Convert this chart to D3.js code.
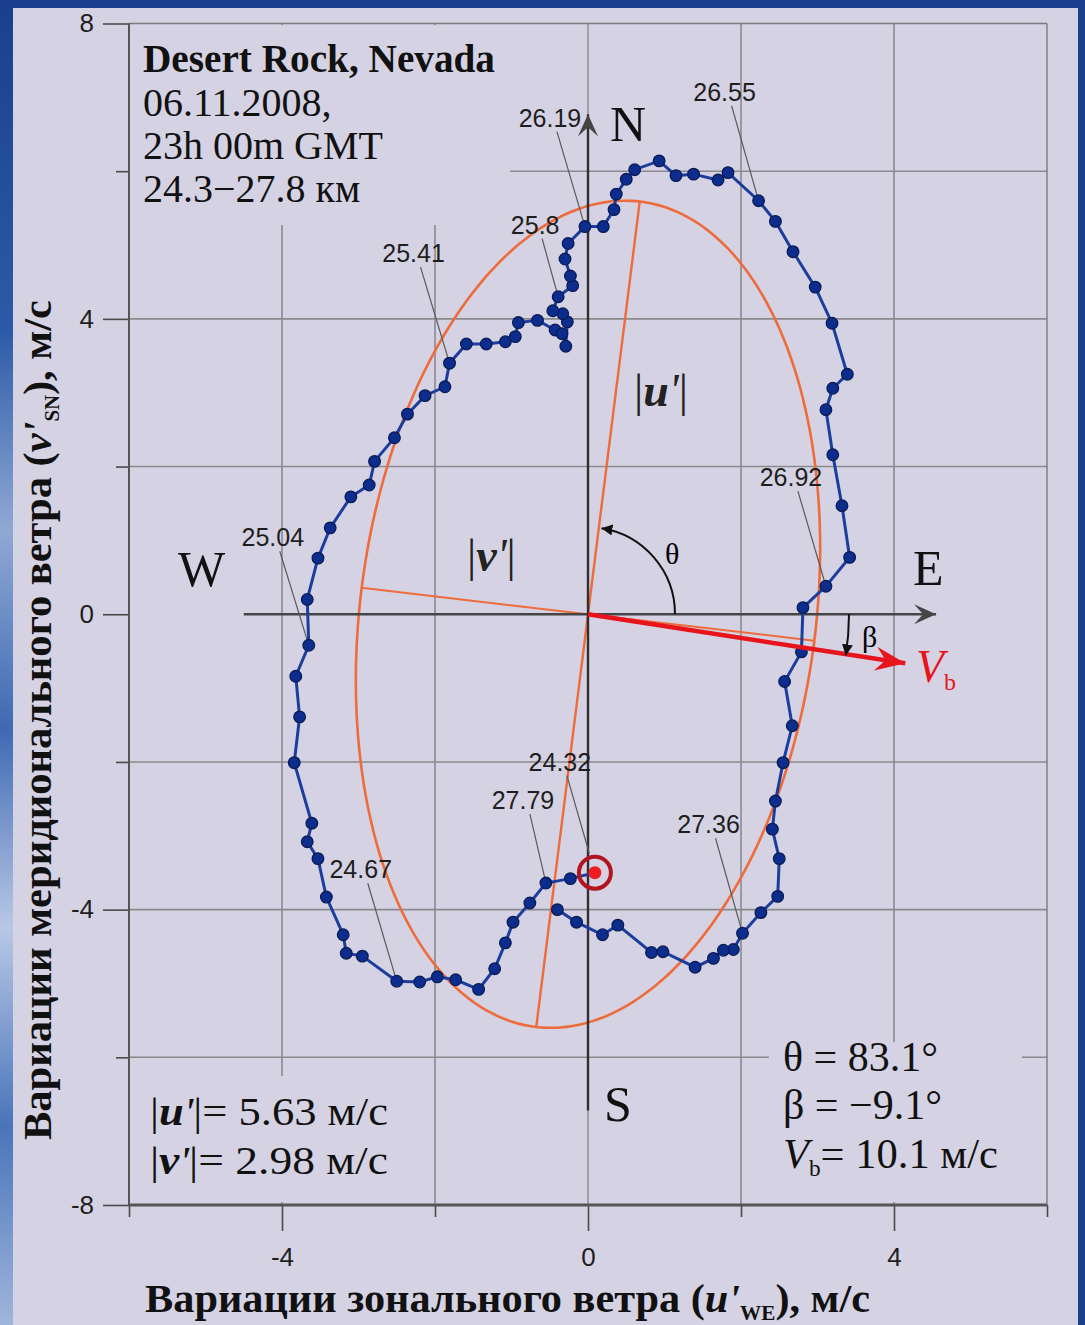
<!DOCTYPE html>
<html>
<head>
<meta charset="utf-8">
<script src="https://cdn.jsdelivr.net/npm/d3@7"></script>
<style>
  html, body { margin: 0; padding: 0; background: #1b3f8c; }
  svg { display: block; }
</style>
</head>
<body>
<svg id="chart" width="1085" height="1325"></svg>
<script>
// Hodograph of wind variations, in altitude order (u' — zonal, v' — meridional), m/s
const uWE = [0.09,-0.23,-0.55,-0.76,-0.98,-1.08,-1.22,-1.43,-1.73,-1.97,
  -2.20,-2.50,-2.95,-3.16,-3.20,-3.42,-3.53,-3.67,-3.61,-3.84,
  -3.77,-3.82,-3.65,-3.67,-3.53,-3.37,-3.10,-2.86,-2.79,-2.53,
  -2.36,-2.13,-1.87,-1.81,-1.59,-1.33,-1.08,-0.95,-0.91,-0.66,
  -0.43,-0.34,-0.29,-0.27,-0.33,-0.46,-0.39,-0.20,-0.23,-0.30,
  -0.26,-0.04,0.20,0.34,0.37,0.50,0.61,0.93,1.15,1.38,
  1.70,1.83,2.23,2.45,2.68,2.97,3.19,3.39,3.20,3.11,
  3.20,3.32,3.42,3.11,2.81,2.79,2.57,2.67,2.55,2.45,
  2.41,2.50,2.48,2.26,2.02,1.90,1.77,1.64,1.40,0.98,
  0.83,0.39,0.19,-0.15,-0.40];
const vSN = [-3.50,-3.58,-3.64,-3.91,-4.17,-4.45,-4.80,-5.08,-4.95,-4.91,
  -4.98,-4.97,-4.63,-4.59,-4.34,-3.83,-3.31,-3.08,-2.83,-2.01,
  -1.39,-0.84,-0.42,0.20,0.76,1.17,1.59,1.75,2.07,2.39,
  2.71,2.96,3.08,3.40,3.66,3.66,3.69,3.76,3.95,3.98,
  3.85,3.80,3.63,3.96,4.07,4.11,4.30,4.45,4.58,4.81,
  5.02,5.25,5.25,5.48,5.69,5.89,6.02,6.14,5.94,5.96,
  5.88,5.98,5.60,5.32,4.91,4.43,3.94,3.25,3.06,2.77,
  2.16,1.47,0.77,0.38,0.09,-0.51,-0.91,-1.51,-2.01,-2.53,
  -2.91,-3.31,-3.82,-4.04,-4.32,-4.54,-4.55,-4.66,-4.78,-4.57,
  -4.58,-4.21,-4.34,-4.17,-4.00];

// Altitude marks (km) and the hodograph point each one refers to
const altLabels = ["24.32","24.67","25.04","25.41","25.8","26.19","26.55","26.92","27.36","27.79"];
const altPoint  = [0, 11, 22, 33, 46, 51, 62, 73, 84, 2];

// Fitted polarisation ellipse and background wind
const uAmp = 5.63, vAmp = 2.98, thetaDeg = 83.1, betaDeg = -9.1, windVb = 10.1;

// Axis ticks
const xTicksMajor = [-4, 0, 4], xTicksMinor = [-6, -2, 2, 6];
const yTicksMajor = [8, 4, 0, -4, -8], yTicksMinor = [6, 2, -2, -6];
const gridX = [-4, -2, 2, 4], gridY = [6, 4, 2, -2, -4, -6];

const serif = "'Liberation Serif','Times New Roman',serif";
const sans = "'Liberation Sans',Arial,sans-serif";
const panel = "#d5d3e3";

const svg = d3.select("#chart");
const x = d3.scaleLinear().domain([-6, 6]).range([129, 1047]);
const y = d3.scaleLinear().domain([-8, 8]).range([1205, 23.5]);
const cx = x(0), cy = y(0);

// ---- slide frame and panel ----
const defs = svg.append("defs");
const sky = defs.append("linearGradient").attr("id", "sky").attr("x1", 0).attr("y1", 0).attr("x2", 0).attr("y2", 1);
[["0%", "#1a3f8e"], ["25%", "#2d5aa8"], ["40%", "#8fa9d4"], ["55%", "#3f69b3"], ["70%", "#b8c8e6"], ["85%", "#4a74ba"], ["100%", "#9fb6dc"]]
  .forEach(([o, c]) => sky.append("stop").attr("offset", o).attr("stop-color", c));
svg.append("rect").attr("width", 1085).attr("height", 1325).attr("fill", "#1b3f8c");
svg.append("rect").attr("x", 0).attr("y", 0).attr("width", 13).attr("height", 1325).attr("fill", "url(#sky)");
svg.append("rect").attr("x", 13).attr("y", 8).attr("width", 1065).attr("height", 1317).attr("fill", panel);

// ---- markers ----
function marker(id, d, fill, w, h) {
  defs.append("marker").attr("id", id)
    .attr("viewBox", `${-w} ${-h / 2} ${w + 1} ${h}`)
    .attr("refX", 0).attr("refY", 0)
    .attr("markerWidth", w + 1).attr("markerHeight", h)
    .attr("markerUnits", "userSpaceOnUse").attr("orient", "auto")
    .append("path").attr("d", d).attr("fill", fill);
}
marker("axisHead", "M0,0 L-22,-10 L-13,0 L-22,10 Z", "#454545", 22, 20);
marker("redHead", "M0,0 L-30,-12 L-20,0 L-30,12 Z", "#e8141c", 30, 24);
marker("arcHead", "M0,0 L-11,-5.5 L-11,5.5 Z", "#111", 11, 11);

// ---- grid ----
const g = svg.append("g");
g.selectAll(".gx").data(gridX).join("line")
  .attr("x1", d => x(d)).attr("x2", d => x(d)).attr("y1", y(8)).attr("y2", y(-8))
  .attr("stroke", "#8a8a8e").attr("stroke-width", 1.6);
g.selectAll(".gy").data(gridY).join("line")
  .attr("y1", d => y(d)).attr("y2", d => y(d)).attr("x1", x(-6)).attr("x2", x(6))
  .attr("stroke", "#8a8a8e").attr("stroke-width", 1.6);
// vertical grid line at zero (under the S axis)
g.append("line").attr("x1", cx).attr("x2", cx).attr("y1", y(8)).attr("y2", y(-8))
  .attr("stroke", "#8a8a8e").attr("stroke-width", 1.4);
// frame top and right
g.append("line").attr("x1", x(-6)).attr("x2", x(6)).attr("y1", y(8)).attr("y2", y(8)).attr("stroke", "#7a7a80").attr("stroke-width", 1.4);
g.append("line").attr("x1", x(6)).attr("x2", x(6)).attr("y1", y(8)).attr("y2", y(-8)).attr("stroke", "#7a7a80").attr("stroke-width", 1.4);

// text boxes laid over the grid
const boxes = [[130, 25, 380, 200], [140, 1076, 262, 126], [769, 1042, 253, 160]];
g.selectAll(".box").data(boxes).join("rect")
  .attr("x", d => d[0]).attr("y", d => d[1]).attr("width", d => d[2]).attr("height", d => d[3])
  .attr("fill", panel);

// ---- axes ----
function styleAxis(sel) {
  sel.select(".domain").remove();
  sel.selectAll("line").attr("stroke", "#4a4a4a").attr("stroke-width", 1.6);
  sel.selectAll("text").attr("font-family", sans).attr("font-size", 26).attr("fill", "#1e1e1e");
}
const fmt = d => String(d);
svg.append("g").attr("transform", `translate(${x(-6)},0)`)
  .call(d3.axisLeft(y).tickValues(yTicksMajor).tickSize(26).tickPadding(9).tickFormat(fmt)).call(styleAxis);
svg.append("g").attr("transform", `translate(${x(-6)},0)`)
  .call(d3.axisLeft(y).tickValues(yTicksMinor).tickSize(13).tickFormat("")).call(styleAxis);
svg.append("g").attr("transform", `translate(0,${y(-8)})`)
  .call(d3.axisBottom(x).tickValues(xTicksMajor).tickSize(26).tickPadding(17).tickFormat(fmt)).call(styleAxis);
svg.append("g").attr("transform", `translate(0,${y(-8)})`)
  .call(d3.axisBottom(x).tickValues(xTicksMinor).tickSize(12).tickFormat("")).call(styleAxis);
svg.append("line").attr("x1", x(-6)).attr("x2", x(-6)).attr("y1", y(8)).attr("y2", y(-8))
  .attr("stroke", "#555").attr("stroke-width", 2);
svg.append("line").attr("x1", x(-6) - 1).attr("x2", x(6)).attr("y1", y(-8)).attr("y2", y(-8))
  .attr("stroke", "#555").attr("stroke-width", 3);

// ---- polarisation ellipse ----
const th = thetaDeg * Math.PI / 180;
const e1 = [Math.cos(th), Math.sin(th)], e2 = [-Math.sin(th), Math.cos(th)];
const ell = d3.range(0, 360, 2).map(a => {
  const t = a * Math.PI / 180;
  return [uAmp * Math.cos(t) * e1[0] + vAmp * Math.sin(t) * e2[0],
          uAmp * Math.cos(t) * e1[1] + vAmp * Math.sin(t) * e2[1]];
});
const lineXY = d3.line().x(d => x(d[0])).y(d => y(d[1]));
const orange = "#ee6b3c";
svg.append("path").attr("d", lineXY.curve(d3.curveCardinalClosed)(ell))
  .attr("fill", "none").attr("stroke", orange).attr("stroke-width", 2.6);
lineXY.curve(d3.curveLinear);
const majA = [uAmp * e1[0], uAmp * e1[1]], minA = [vAmp * e2[0], vAmp * e2[1]];
svg.append("path").attr("d", lineXY([[-majA[0], -majA[1]], majA]))
  .attr("stroke", orange).attr("stroke-width", 2.4).attr("fill", "none");
svg.append("path").attr("d", lineXY([minA, [-minA[0], -minA[1]]]))
  .attr("stroke", orange).attr("stroke-width", 2).attr("fill", "none");

// background wind direction
const be = betaDeg * Math.PI / 180;
const vbTip = [4.2 * Math.cos(be), 4.2 * Math.sin(be)];
const projU = -minA[0];
const projP = [projU, projU * Math.tan(be)];
svg.append("path").attr("d", lineXY([[0, 0], projP, [-minA[0], -minA[1]]]))
  .attr("stroke", orange).attr("stroke-width", 1.6).attr("fill", "none");

// ---- compass axes ----
svg.append("line").attr("x1", x(-4.5)).attr("x2", x(4.55)).attr("y1", cy).attr("y2", cy)
  .attr("stroke", "#454545").attr("stroke-width", 2.6).attr("marker-end", "url(#axisHead)");
svg.append("line").attr("x1", cx).attr("x2", cx).attr("y1", y(-6.72)).attr("y2", y(6.77))
  .attr("stroke", "#303030").attr("stroke-width", 2.4).attr("marker-end", "url(#axisHead)");

// ---- altitude leaders ----
const leaderOff = [[-35, -111], [-36, -112], [-36, -108], [-36, -110], [-23, -72], [-35, -109], [-34, -109], [-35, -109], [-34, -109], [-23, -83]];
const leaders = altLabels.map((t, i) => {
  const p = altPoint[i];
  const px = x(uWE[p]), py = y(vSN[p]);
  const lx = px + leaderOff[i][0], ly = py + leaderOff[i][1];
  const sx = lx + 7, sy = ly + 14;
  const gap = i === 0 ? 20 : 2;
  const len = Math.hypot(px - sx, py - sy);
  return { t, lx, ly, sx, sy, ex: px - (px - sx) / len * gap, ey: py - (py - sy) / len * gap };
});
svg.selectAll(".leader").data(leaders).join("line")
  .attr("x1", d => d.sx).attr("y1", d => d.sy).attr("x2", d => d.ex).attr("y2", d => d.ey)
  .attr("stroke", "#5a5a5a").attr("stroke-width", 1.2);

// ---- hodograph ----
const pts = uWE.map((u, i) => [u, vSN[i]]);
svg.append("path").attr("d", lineXY(pts)).attr("fill", "none")
  .attr("stroke", "#1d3d9e").attr("stroke-width", 3);
svg.selectAll(".pt").data(pts.slice(1)).join("circle")
  .attr("cx", d => x(d[0])).attr("cy", d => y(d[1])).attr("r", 5.8)
  .attr("fill", "#0c2d8e").attr("stroke", "#0a1c55").attr("stroke-width", 1.3);

// starting point
svg.append("circle").attr("cx", x(uWE[0])).attr("cy", y(vSN[0])).attr("r", 16)
  .attr("fill", "none").attr("stroke", "#b3141f").attr("stroke-width", 4);
svg.append("circle").attr("cx", x(uWE[0])).attr("cy", y(vSN[0])).attr("r", 6.5).attr("fill", "#ee1c24");

// V_b arrow
svg.append("line").attr("x1", cx).attr("y1", cy).attr("x2", x(vbTip[0])).attr("y2", y(vbTip[1]))
  .attr("stroke", "#e8141c").attr("stroke-width", 4.5).attr("marker-end", "url(#redHead)");

// theta and beta arcs
const phi = Math.atan2(cy - y(majA[1]), x(majA[0]) - cx);
const pTh = d3.path(); pTh.arc(cx, cy, 87, 0, -(phi - 0.03), true);
svg.append("path").attr("d", pTh.toString()).attr("fill", "none").attr("stroke", "#111")
  .attr("stroke-width", 2).attr("marker-end", "url(#arcHead)");
const psi = Math.atan2(y(vbTip[1]) - cy, x(vbTip[0]) - cx);
const pBe = d3.path(); pBe.moveTo(cx + 261, cy); pBe.arc(cx, cy, 261, 0, psi + 0.005, false);
svg.append("path").attr("d", pBe.toString()).attr("fill", "none").attr("stroke", "#111")
  .attr("stroke-width", 2).attr("marker-end", "url(#arcHead)");

// ---- texts ----
svg.selectAll(".alt").data(leaders).join("text")
  .attr("x", d => d.lx).attr("y", d => d.ly).attr("dy", "0.36em")
  .attr("text-anchor", "middle").attr("font-family", sans).attr("font-size", 25)
  .attr("fill", "#1e1e1e").text(d => d.t);

const title = svg.append("g").attr("font-family", serif).attr("fill", "#111");
title.append("text").attr("x", 143).attr("y", 72).attr("font-size", 39).attr("font-weight", "bold")
  .attr("textLength", 352).attr("lengthAdjust", "spacingAndGlyphs").text("Desert Rock, Nevada");
["06.11.2008,", "23h 00m GMT", "24.3\u221227.8 км"].forEach((t, i) =>
  title.append("text").attr("x", 143).attr("y", 116 + i * 43).attr("font-size", 40).text(t));

const compass = svg.append("g").attr("font-family", serif).attr("font-size", 50).attr("fill", "#111");
compass.append("text").attr("x", cx + 22).attr("y", 141).text("N");
compass.append("text").attr("x", 178).attr("y", 586).text("W");
compass.append("text").attr("x", 913).attr("y", 585).text("E");
compass.append("text").attr("x", cx + 16).attr("y", 1121).text("S");

svg.append("text").attr("x", 665).attr("y", 564).attr("font-family", serif).attr("font-size", 30).text("θ");
svg.append("text").attr("x", 862).attr("y", 647).attr("font-family", serif).attr("font-size", 30).text("β");
const vbl = svg.append("text").attr("x", 916).attr("y", 682).attr("font-family", serif).attr("fill", "#e8141c");
vbl.append("tspan").attr("font-size", 46).attr("font-style", "italic").text("V");
vbl.append("tspan").attr("font-size", 24).attr("dy", 8).text("b");

function absLabel(sel, letter) {
  sel.append("tspan").attr("font-style", "normal").attr("font-weight", "normal").text("|");
  sel.append("tspan").attr("font-style", "italic").attr("font-weight", "bold").text(letter);
  sel.append("tspan").attr("font-style", "italic").attr("font-weight", "normal").text("'");
  sel.append("tspan").attr("font-style", "normal").attr("font-weight", "normal").text("|");
}
const uLab = svg.append("text").attr("x", 634).attr("y", 406).attr("font-family", serif).attr("font-size", 46).attr("fill", "#222");
absLabel(uLab, "u");
const vLab = svg.append("text").attr("x", 467).attr("y", 571).attr("font-family", serif).attr("font-size", 46).attr("fill", "#222");
absLabel(vLab, "v");

const bl = svg.append("g").attr("font-family", serif).attr("font-size", 41).attr("fill", "#111");
const t1 = bl.append("text").attr("x", 150).attr("y", 1125)
  .attr("textLength", 238).attr("lengthAdjust", "spacingAndGlyphs");
absLabel(t1, "u");
t1.append("tspan").text("= " + uAmp.toFixed(2) + " м/с");
const t2 = bl.append("text").attr("x", 150).attr("y", 1174)
  .attr("textLength", 238).attr("lengthAdjust", "spacingAndGlyphs");
absLabel(t2, "v");
t2.append("tspan").text("= " + vAmp.toFixed(2) + " м/с");

const br = svg.append("g").attr("font-family", serif).attr("font-size", 42).attr("fill", "#111");
br.append("text").attr("x", 783).attr("y", 1071).text("θ = " + thetaDeg.toFixed(1) + "°");
br.append("text").attr("x", 783).attr("y", 1119).text("β = \u2212" + Math.abs(betaDeg).toFixed(1) + "°");
const t3 = br.append("text").attr("x", 783).attr("y", 1168)
  .attr("textLength", 215).attr("lengthAdjust", "spacingAndGlyphs");
t3.append("tspan").attr("font-style", "italic").text("V");
t3.append("tspan").attr("font-size", 23).attr("dy", 8).text("b");
t3.append("tspan").attr("dy", -8).text("= " + windVb.toFixed(1) + " м/с");

// axis titles
const xt = svg.append("text").attr("x", 145).attr("y", 1312).attr("font-family", serif)
  .attr("font-size", 40).attr("font-weight", "bold").attr("fill", "#111")
  .attr("textLength", 725).attr("lengthAdjust", "spacingAndGlyphs");
xt.append("tspan").text("Вариации зонального ветра (");
xt.append("tspan").attr("font-style", "italic").text("u'");
xt.append("tspan").attr("font-size", 20).attr("dy", 8).text("WE");
xt.append("tspan").attr("dy", -8).text("),");
xt.append("tspan").text(" м/с");

const yt = svg.append("text").attr("transform", "translate(51,1140) rotate(-90)")
  .attr("font-family", serif).attr("font-size", 41).attr("font-weight", "bold").attr("fill", "#111")
  .attr("textLength", 840).attr("lengthAdjust", "spacingAndGlyphs");
yt.append("tspan").text("Вариации меридионального ветра (");
yt.append("tspan").attr("font-style", "italic").text("v'");
yt.append("tspan").attr("font-size", 20).attr("dy", 8).text("SN");
yt.append("tspan").attr("dy", -8).text("), м/с");
</script>
</body>
</html>
